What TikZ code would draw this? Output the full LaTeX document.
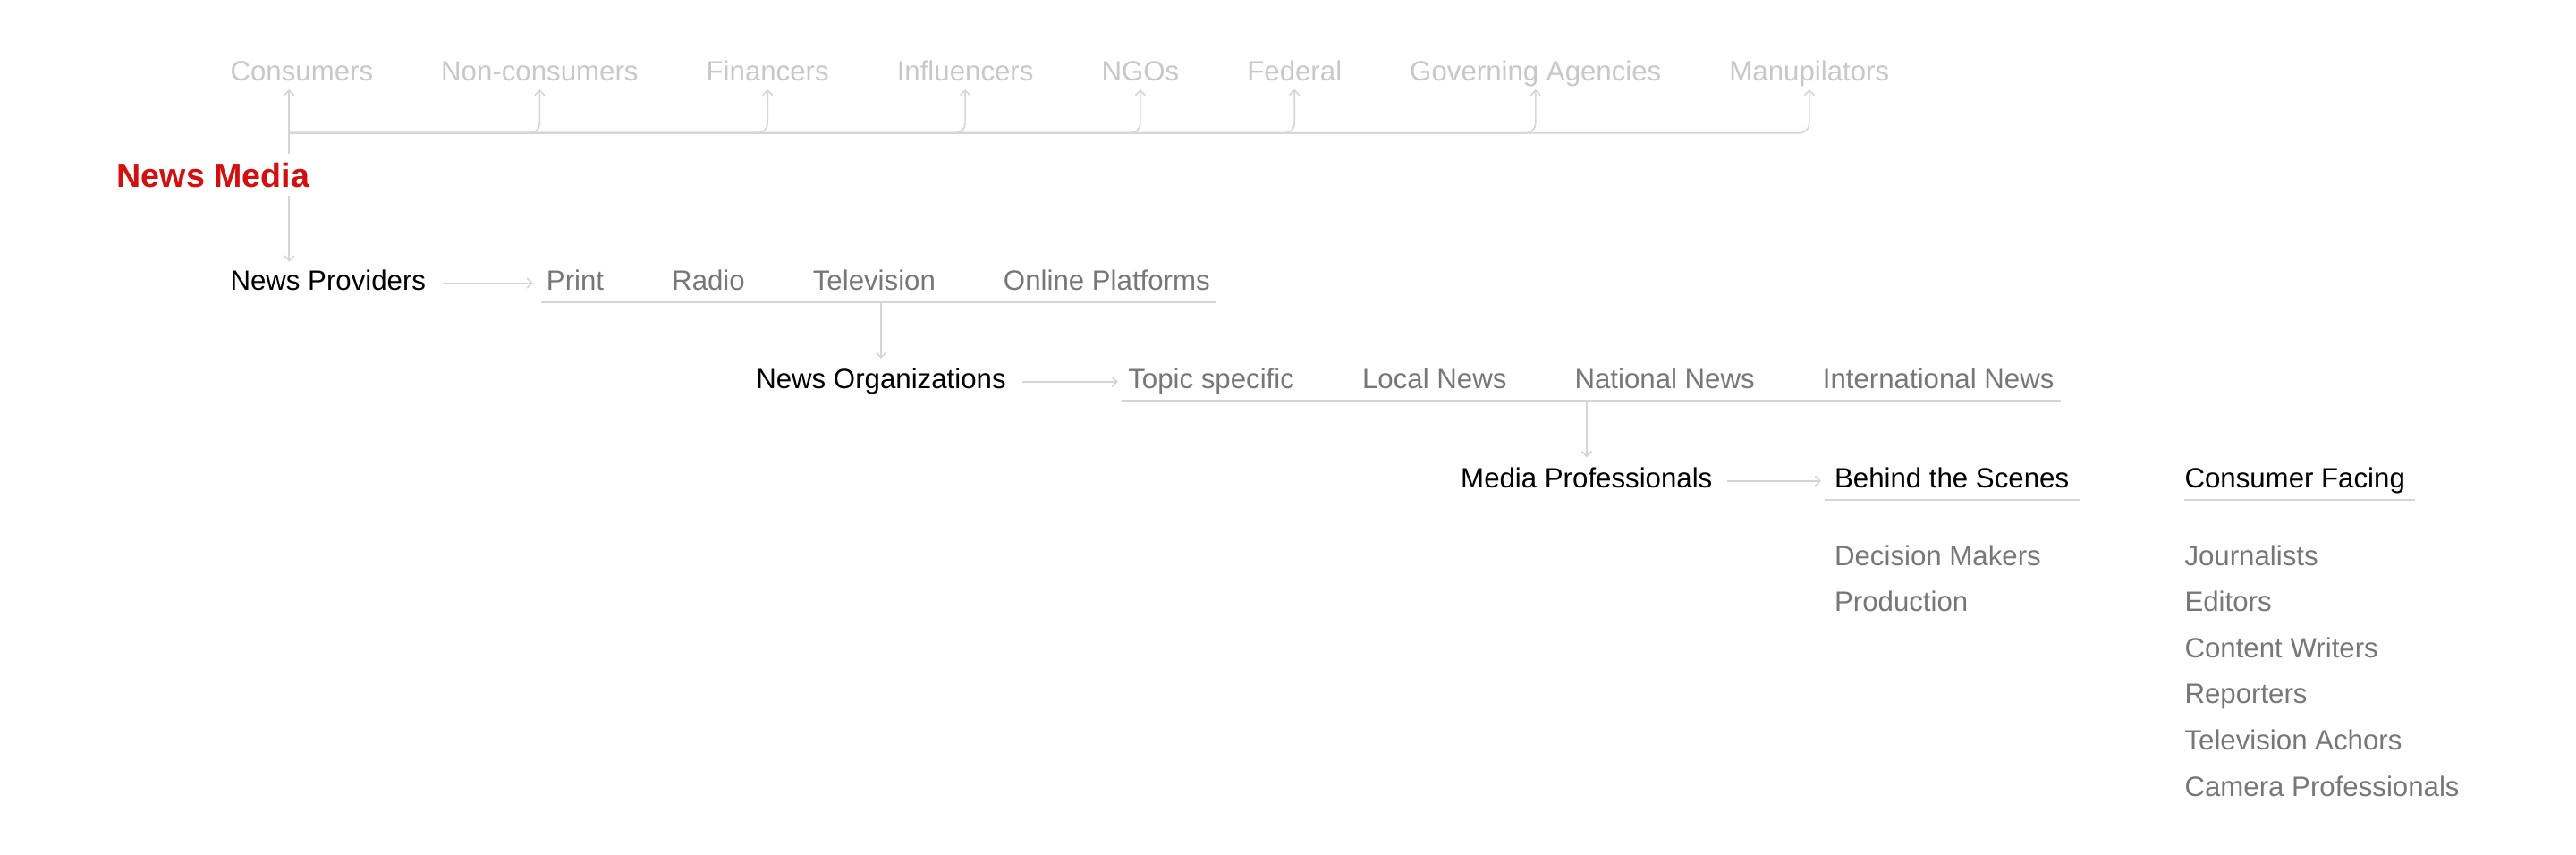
\documentclass[tikz,border=0pt]{standalone}
\usepackage{fontspec}
\setmainfont{Liberation Sans}
\usetikzlibrary{arrows.meta, positioning}

\definecolor{faint}{HTML}{C8C8C8}
\definecolor{muted}{HTML}{777777}
\definecolor{wire}{HTML}{D5D5D5}
\definecolor{headline}{HTML}{D40F0F}

\tikzset{
    txt/.style={inner sep=0pt, text height=12.5pt, text depth=4.2pt, font=\fontsize{17}{20}\selectfont},
    outer/.style={txt, text=faint},
    level/.style={txt, text=black},
    item/.style={txt, text=muted},
    link/.style={draw=wire, line width=0.9pt, -{Straight Barb[length=3pt, width=6pt]}},
    rule/.style={draw=wire, line width=0.9pt},
}

\begin{document}
\begin{tikzpicture}[x=1pt, y=-1pt, node distance=41pt]
    \useasboundingbox (0,0) rectangle (1568,520);

    \node[txt, font=\fontsize{20.5}{24}\selectfont\bfseries, text=headline, text height=15.4pt, text depth=5.1pt, anchor=base west] (News Media) at (71,114) {News Media};
    \coordinate (hub) at (176,81);

    % who the media answers to
    \node[outer, anchor=base west]   (Consumers)    at (140,49) {Consumers};
    \node[outer, right=of Consumers]    (Nonconsumers) {Non-consumers};
    \node[outer, right=of Nonconsumers] (Financers)    {Financers};
    \node[outer, right=of Financers]    (Influencers)  {Influencers};
    \node[outer, right=of Influencers]  (NGOs)         {NGOs};
    \node[outer, right=of NGOs]         (Federal)      {Federal};
    \node[outer, right=of Federal]      (Governing)    {Governing Agencies};
    \node[outer, right=of Governing]    (Manupilators) {Manupilators};

    \draw[link, shorten <=5pt, shorten >=1pt] (News Media.north -| hub) -- (Consumers.south -| hub);
    \foreach \t in {Nonconsumers,Financers,Influencers,NGOs,Federal,Governing,Manupilators}
        \draw[link, rounded corners=6pt, shorten >=1pt] (hub) -| (\t.south);

    % providers
    \node[level, anchor=base west]    (Providers)  at (140,176.5) {News Providers};
    \node[item, right=73pt of Providers] (Print)      {Print};
    \node[item, right=of Print]          (Radio)      {Radio};
    \node[item, right=of Radio]          (Television) {Television};
    \node[item, right=of Television]     (Online)     {Online Platforms};

    \draw[rule] ([shift={(-3,3)}]Print.south west) coordinate (shelf1) -- ([shift={(3,3)}]Online.south east);
    \draw[link, shorten >=4.5pt] (News Media.south -| hub) -- (Providers.north -| hub);
    \draw[link, shorten <=10pt, shorten >=8pt] (Providers) -- (Print);

    % organizations
    \node[level, anchor=base west]        (Organizations) at (460,236.5) {News Organizations};
    \node[item, right=74pt of Organizations] (Topic)         {Topic specific};
    \node[item, right=of Topic]              (Local)         {Local News};
    \node[item, right=of Local]              (National)      {National News};
    \node[item, right=of National]           (International) {International News};

    \draw[rule] ([shift={(-4,3)}]Topic.south west) coordinate (shelf2) -- ([shift={(4,3)}]International.south east);
    \draw[link, shorten >=5.5pt] (Organizations.north |- shelf1) -- (Organizations.north);
    \draw[link, shorten <=10pt, shorten >=6pt] (Organizations) -- (Topic);

    % professionals
    \node[level, anchor=base west]       (Professionals) at (889,297) {Media Professionals};
    \node[level, right=74pt of Professionals] (Behind)        {Behind the Scenes};
    \node[level, right=70pt of Behind]        (Facing)        {Consumer Facing};

    \draw[rule] ([shift={(-6,3)}]Behind.south west) -- ([shift={(6,3)}]Behind.south east);
    \draw[rule] ([shift={(0,3)}]Facing.south west) -- ([shift={(6,3)}]Facing.south east);
    \draw[link, shorten >=6pt] (Professionals.north |- shelf2) -- (Professionals.north);
    \draw[link, shorten <=9pt, shorten >=8pt] (Professionals) -- (Behind);

    \node[item, below=30pt of Behind.south west, anchor=north west]     (Decision)    {Decision Makers};
    \node[item, below=11pt of Decision.south west, anchor=north west]   (Production)  {Production};

    \node[item, below=30pt of Facing.south west, anchor=north west]      (Journalists) {Journalists};
    \node[item, below=11pt of Journalists.south west, anchor=north west] (Editors)     {Editors};
    \node[item, below=11pt of Editors.south west, anchor=north west]     (Writers)     {Content Writers};
    \node[item, below=11pt of Writers.south west, anchor=north west]     (Reporters)   {Reporters};
    \node[item, below=11pt of Reporters.south west, anchor=north west]   (Anchors)     {Television Achors};
    \node[item, below=11pt of Anchors.south west, anchor=north west]     (Camera)      {Camera Professionals};
\end{tikzpicture}
\end{document}
